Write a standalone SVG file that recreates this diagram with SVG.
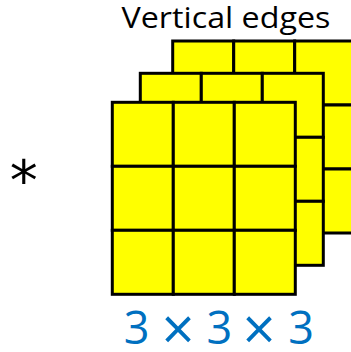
<svg xmlns="http://www.w3.org/2000/svg" width="351" height="352" viewBox="0 0 351 352">
<defs>
<style>
.cell{fill:#FFFF00;stroke:#000;stroke-width:3}
.title{font-family:"Open Sans","Liberation Sans",sans-serif;font-size:29px;fill:#000}
.dim{font-family:"Open Sans","Liberation Sans",sans-serif;font-size:45px;fill:#0070C0;text-anchor:middle}
.times{font-family:"Open Sans","Liberation Sans",sans-serif;font-size:58px;fill:#0070C0;text-anchor:middle}
.op{font-family:"DejaVu Sans",sans-serif;fill:#000}
</style>
<g id="grid">
<rect class="cell" x="0" y="0" width="61" height="64"/>
<rect class="cell" x="61" y="0" width="61" height="64"/>
<rect class="cell" x="122" y="0" width="61" height="64"/>
<rect class="cell" x="0" y="64" width="61" height="64"/>
<rect class="cell" x="61" y="64" width="61" height="64"/>
<rect class="cell" x="122" y="64" width="61" height="64"/>
<rect class="cell" x="0" y="128" width="61" height="64"/>
<rect class="cell" x="61" y="128" width="61" height="64"/>
<rect class="cell" x="122" y="128" width="61" height="64"/>
</g>
</defs>
<rect width="351" height="352" fill="#fff"/>
<g id="title"><text class="title" x="121.5" y="28" textLength="209" lengthAdjust="spacingAndGlyphs">Vertical edges</text></g>
<g id="layer3"><use href="#grid" x="172.7" y="41"/></g>
<g id="layer2"><use href="#grid" x="140.3" y="73.3"/></g>
<g id="layer1"><use href="#grid" x="112.3" y="102.3"/></g>
<g id="asterisk"><text class="op" x="23.7" y="200" font-size="56" text-anchor="middle">*</text></g>
<g id="dims">
<text class="dim" x="136.5" y="344">3</text>
<text class="times" x="178" y="350">×</text>
<text class="dim" x="219.3" y="344">3</text>
<text class="times" x="259" y="350">×</text>
<text class="dim" x="301" y="344">3</text>
</g>
<g id="connectors"/>
</svg>
